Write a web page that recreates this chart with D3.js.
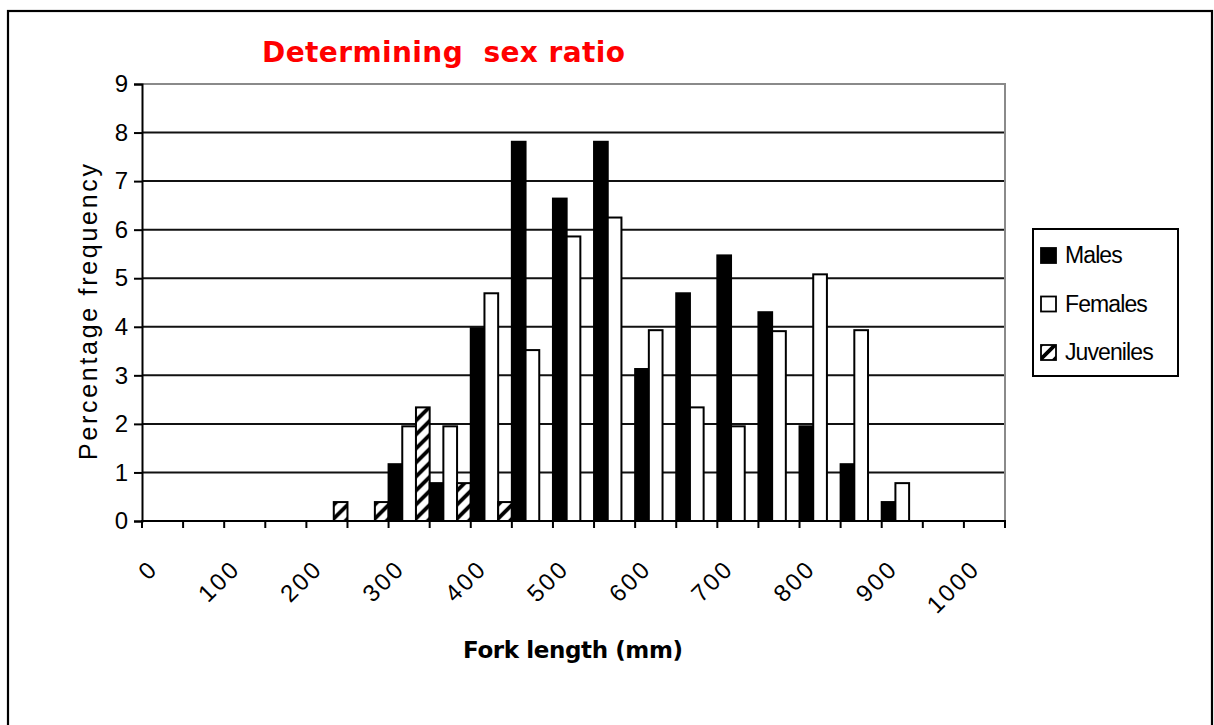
<!DOCTYPE html>
<html>
<head>
<meta charset="utf-8">
<script src="https://cdn.jsdelivr.net/npm/d3@7"></script>
<style>
  html, body { margin: 0; padding: 0; background: #fff; }
  svg { display: block; }
</style>
</head>
<body>
<svg id="chart" width="1214" height="725"></svg>
<script>
// Fork-length classes (mm) and percentage frequency per sex group
const lengthClasses = [0, 50, 100, 150, 200, 250, 300, 350, 400, 450, 500,
                       550, 600, 650, 700, 750, 800, 850, 900, 950, 1000];
const males     = [0, 0, 0, 0, 0, 0, 1.17, 0.78, 3.97, 7.81, 6.64,
                   7.81, 3.13, 4.69, 5.47, 4.30, 1.95, 1.17, 0.39, 0, 0];
const females   = [0, 0, 0, 0, 0, 0, 1.95, 1.95, 4.69, 3.52, 5.86,
                   6.25, 3.93, 2.34, 1.95, 3.91, 5.08, 3.93, 0.78, 0, 0];
const juveniles = [0, 0, 0, 0, 0.39, 0.39, 2.34, 0.78, 0.39, 0, 0,
                   0, 0, 0, 0, 0, 0, 0, 0, 0, 0];
const seriesNames = ["Males", "Females", "Juveniles"];
const xTickLabels = ["0", "100", "200", "300", "400", "500", "600", "700", "800", "900", "1000"];
const yTicks = [0, 1, 2, 3, 4, 5, 6, 7, 8, 9];

const seriesValues = [males, females, juveniles];
const rows = lengthClasses.map((c, i) => ({
  cls: c,
  values: seriesNames.map((name, s) => ({ name, value: seriesValues[s][i] }))
}));

const svg = d3.select("#chart");
const plot = { left: 142, right: 1005, top: 84, bottom: 521 };

// Hatch used for the juvenile bars
const defs = svg.append("defs");
const hatch = defs.append("pattern")
  .attr("id", "hatch")
  .attr("patternUnits", "userSpaceOnUse")
  .attr("width", 14).attr("height", 14);
hatch.append("rect").attr("width", 14).attr("height", 14).attr("fill", "#fff");
hatch.append("path")
  .attr("d", "M-2,16 L16,-2 M-4,4 L4,-4 M10,18 L18,10")
  .attr("stroke", "#000").attr("stroke-width", 3.8);

const fills = { Males: "#000", Females: "#fff", Juveniles: "url(#hatch)" };

// Outer frame
svg.append("rect")
  .attr("x", 8).attr("y", 11)
  .attr("width", 1204).attr("height", 730)
  .attr("fill", "none").attr("stroke", "#000").attr("stroke-width", 2.2);

const x0 = d3.scaleBand()
  .domain(lengthClasses)
  .range([plot.left, plot.right])
  .paddingInner(0).paddingOuter(0);
const x1 = d3.scaleBand()
  .domain(seriesNames)
  .range([0, x0.bandwidth()])
  .padding(0);
const y = d3.scaleLinear().domain([0, 9]).range([plot.bottom, plot.top]);

// Horizontal gridlines
svg.append("g")
  .selectAll("line")
  .data(yTicks.filter(t => t > 0 && t < 9))
  .join("line")
  .attr("x1", plot.left).attr("x2", plot.right)
  .attr("y1", d => y(d)).attr("y2", d => y(d))
  .attr("stroke", "#111").attr("stroke-width", 2);

// Plot-area border (top and right)
svg.append("path")
  .attr("d", `M${plot.left},${y(9)} H${plot.right} V${plot.bottom}`)
  .attr("fill", "none").attr("stroke", "#8a8a8a").attr("stroke-width", 2);

// Bars
svg.append("g")
  .selectAll("g")
  .data(rows)
  .join("g")
  .attr("transform", d => `translate(${x0(d.cls)},0)`)
  .selectAll("rect")
  .data(d => d.values.filter(v => v.value > 0))
  .join("rect")
  .attr("x", d => x1(d.name))
  .attr("width", x1.bandwidth())
  .attr("y", d => y(d.value))
  .attr("height", d => y(0) - y(d.value))
  .attr("fill", d => fills[d.name])
  .attr("stroke", "#000").attr("stroke-width", 2);

// Y axis
const yAxis = svg.append("g")
  .attr("transform", `translate(${plot.left},0)`)
  .call(d3.axisLeft(y).tickValues(yTicks).tickFormat(d3.format("d")).tickSize(8).tickPadding(6));
yAxis.select(".domain").attr("stroke", "#000").attr("stroke-width", 2);
yAxis.selectAll(".tick line").attr("stroke", "#000").attr("stroke-width", 2);
yAxis.selectAll(".tick text")
  .attr("font-family", "'Liberation Sans', Arial, sans-serif")
  .attr("font-size", 24).attr("fill", "#000");

// X axis: baseline with a tick at every class boundary
const xAxis = svg.append("g");
xAxis.append("line")
  .attr("x1", plot.left - 1).attr("x2", plot.right + 1)
  .attr("y1", plot.bottom).attr("y2", plot.bottom)
  .attr("stroke", "#000").attr("stroke-width", 2);
const boundaries = lengthClasses.map(c => x0(c)).concat([x0(lengthClasses[lengthClasses.length - 1]) + x0.bandwidth()]);
xAxis.selectAll("line.tick")
  .data(boundaries)
  .join("line")
  .attr("class", "tick")
  .attr("x1", d => d).attr("x2", d => d)
  .attr("y1", plot.bottom).attr("y2", plot.bottom + 7)
  .attr("stroke", "#000").attr("stroke-width", 2);
xAxis.selectAll("text")
  .data(xTickLabels)
  .join("text")
  .attr("transform", d => `translate(${x0(+d) + x0.bandwidth() / 2 - 3},${plot.bottom + 49}) rotate(-45)`)
  .attr("text-anchor", "end")
  .attr("font-family", "'Liberation Sans', Arial, sans-serif")
  .attr("font-size", 24)
  .attr("letter-spacing", 2.5)
  .attr("fill", "#000")
  .text(d => d);

// Titles
svg.append("text")
  .attr("x", 262).attr("y", 62)
  .attr("font-family", "'DejaVu Sans', Verdana, sans-serif")
  .attr("font-weight", "bold").attr("font-size", 28)
  .attr("fill", "#ff0000")
  .style("white-space", "pre")
  .attr("textLength", 363).attr("lengthAdjust", "spacing")
  .text("Determining  sex ratio");

svg.append("text")
  .attr("x", 463).attr("y", 658)
  .attr("font-family", "'DejaVu Sans', Verdana, sans-serif")
  .attr("font-weight", "bold").attr("font-size", 23)
  .attr("fill", "#000")
  .attr("textLength", 220).attr("lengthAdjust", "spacing")
  .text("Fork length (mm)");

svg.append("text")
  .attr("transform", "translate(97,312) rotate(-90)")
  .attr("text-anchor", "middle")
  .attr("font-family", "'Liberation Sans', Arial, sans-serif")
  .attr("font-size", 25)
  .attr("fill", "#000")
  .attr("textLength", 296).attr("lengthAdjust", "spacing")
  .text("Percentage frequency");

// Legend
const legend = svg.append("g");
legend.append("rect")
  .attr("x", 1033).attr("y", 229).attr("width", 145).attr("height", 147)
  .attr("fill", "#fff").attr("stroke", "#000").attr("stroke-width", 2);
const items = legend.selectAll("g.item")
  .data(seriesNames)
  .join("g")
  .attr("class", "item")
  .attr("transform", (d, i) => `translate(1041,${248 + i * 48.5})`);
items.append("rect")
  .attr("width", 15).attr("height", 15)
  .attr("fill", d => fills[d])
  .attr("stroke", "#000").attr("stroke-width", 1.8);
items.append("text")
  .attr("x", 24).attr("y", 15)
  .attr("font-family", "'Liberation Sans', Arial, sans-serif")
  .attr("font-size", 23)
  .attr("letter-spacing", -0.9)
  .attr("fill", "#000")
  .text(d => d);
</script>
</body>
</html>
